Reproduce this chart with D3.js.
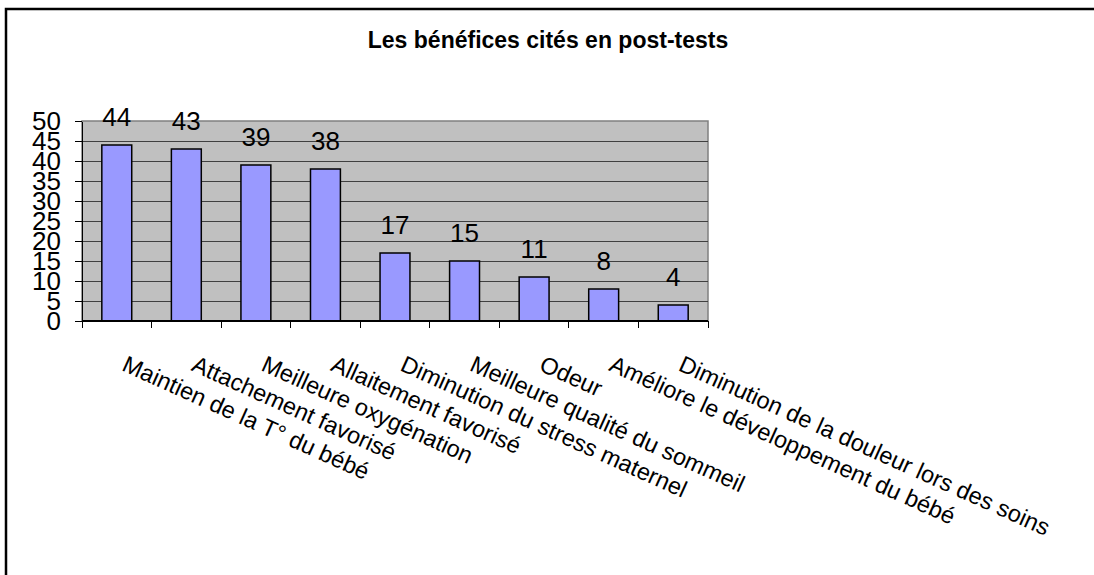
<!DOCTYPE html>
<meta charset="utf-8">
<style>
    body {
        margin: 0;
        background: #fff;
        font-family: "Liberation Sans", Arial, sans-serif;
    }
    .axis path, .axis line {
        stroke: #000;
        shape-rendering: crispEdges;
    }
    .axis text {
        font-family: "Liberation Sans", Arial, sans-serif;
        font-size: 26px;
        fill: #000;
    }
    .grid line {
        stroke: #404040;
        shape-rendering: crispEdges;
    }
    rect.bar {
        fill: #9999FF;
        stroke: #000;
        stroke-width: 1.5px;
    }
</style>
<body>
<script src="https://d3js.org/d3.v7.min.js"></script>
<script>
    // values
    var categories = [
        "Maintien de la T° du bébé",
        "Attachement favorisé",
        "Meilleure oxygénation",
        "Allaitement favorisé",
        "Diminution du stress maternel",
        "Meilleure qualité du sommeil",
        "Odeur",
        "Améliore le développement du bébé",
        "Diminution de la douleur lors des soins"
    ];
    var counts = [44, 43, 39, 38, 17, 15, 11, 8, 4];
    var yTicks = [0, 5, 10, 15, 20, 25, 30, 35, 40, 45, 50];
    var title = "Les bénéfices cités en post-tests";

    var W = 1094, H = 575;
    var plot = {left: 82, right: 708, top: 121, bottom: 321};

    var svg = d3.select("body").append("svg")
        .attr("width", W)
        .attr("height", H);

    // outer frame (right and bottom edges run off the picture)
    svg.append("rect")
        .attr("x", 6)
        .attr("y", 9)
        .attr("width", W + 20)
        .attr("height", H + 20)
        .attr("fill", "#fff")
        .attr("stroke", "#000")
        .attr("stroke-width", 2.5);

    svg.append("text")
        .attr("x", 548)
        .attr("y", 48)
        .attr("text-anchor", "middle")
        .style("font-size", "23px")
        .style("font-weight", "bold")
        .text(title);

    var x = d3.scaleBand()
        .domain(categories)
        .range([plot.left, plot.right])
        .paddingInner(0.57)
        .paddingOuter(0.285);
    var y = d3.scaleLinear()
        .domain([0, 50])
        .range([plot.bottom, plot.top]);

    var g = svg.append("g");

    g.append("rect")
        .attr("x", plot.left)
        .attr("y", plot.top)
        .attr("width", plot.right - plot.left)
        .attr("height", plot.bottom - plot.top)
        .attr("fill", "#C0C0C0")
        .attr("stroke", "#808080")
        .attr("stroke-width", 1.5);

    g.append("g")
        .attr("class", "grid")
        .selectAll("line")
        .data(yTicks.filter(function(d) { return d > 0 && d < 50; }))
        .join("line")
        .attr("x1", plot.left)
        .attr("x2", plot.right)
        .attr("y1", function(d) { return y(d); })
        .attr("y2", function(d) { return y(d); });

    g.selectAll("rect.bar")
        .data(counts)
        .join("rect")
        .attr("class", "bar")
        .attr("x", function(d, i) { return x(categories[i]); })
        .attr("width", x.bandwidth())
        .attr("y", function(d) { return y(d); })
        .attr("height", function(d) { return y(0) - y(d); });

    g.selectAll("text.value")
        .data(counts)
        .join("text")
        .attr("class", "value")
        .attr("x", function(d, i) { return x(categories[i]) + x.bandwidth() / 2; })
        .attr("y", function(d) { return y(d) - 19; })
        .attr("text-anchor", "middle")
        .style("font-size", "26px")
        .text(function(d) { return d; });

    var yAxis = d3.axisLeft(y)
        .tickValues(yTicks)
        .tickSize(7)
        .tickPadding(14)
        .tickSizeOuter(0);
    g.append("g")
        .attr("class", "y axis")
        .attr("transform", "translate(" + plot.left + ",0)")
        .call(yAxis);

    // x axis: line plus tick marks between the categories
    var step = x.step();
    var bounds = d3.range(categories.length + 1).map(function(i) {
        return plot.left + i * step;
    });
    var xg = g.append("g").attr("class", "x axis");
    xg.append("line")
        .attr("x1", plot.left)
        .attr("x2", plot.right)
        .attr("y1", plot.bottom)
        .attr("y2", plot.bottom)
        .attr("stroke-width", 1.5);
    xg.selectAll("line.tick")
        .data(bounds)
        .join("line")
        .attr("class", "tick")
        .attr("x1", function(d) { return d; })
        .attr("x2", function(d) { return d; })
        .attr("y1", plot.bottom)
        .attr("y2", plot.bottom + 7);

    g.selectAll("text.cat")
        .data(categories)
        .join("text")
        .attr("class", "cat")
        .attr("transform", function(d) {
            return "translate(" + (x(d) + x.bandwidth() / 2 + 4) + "," + 370 + ") rotate(24.3)";
        })
        .style("font-size", "23.5px")
        .text(function(d) { return d; });
</script>
